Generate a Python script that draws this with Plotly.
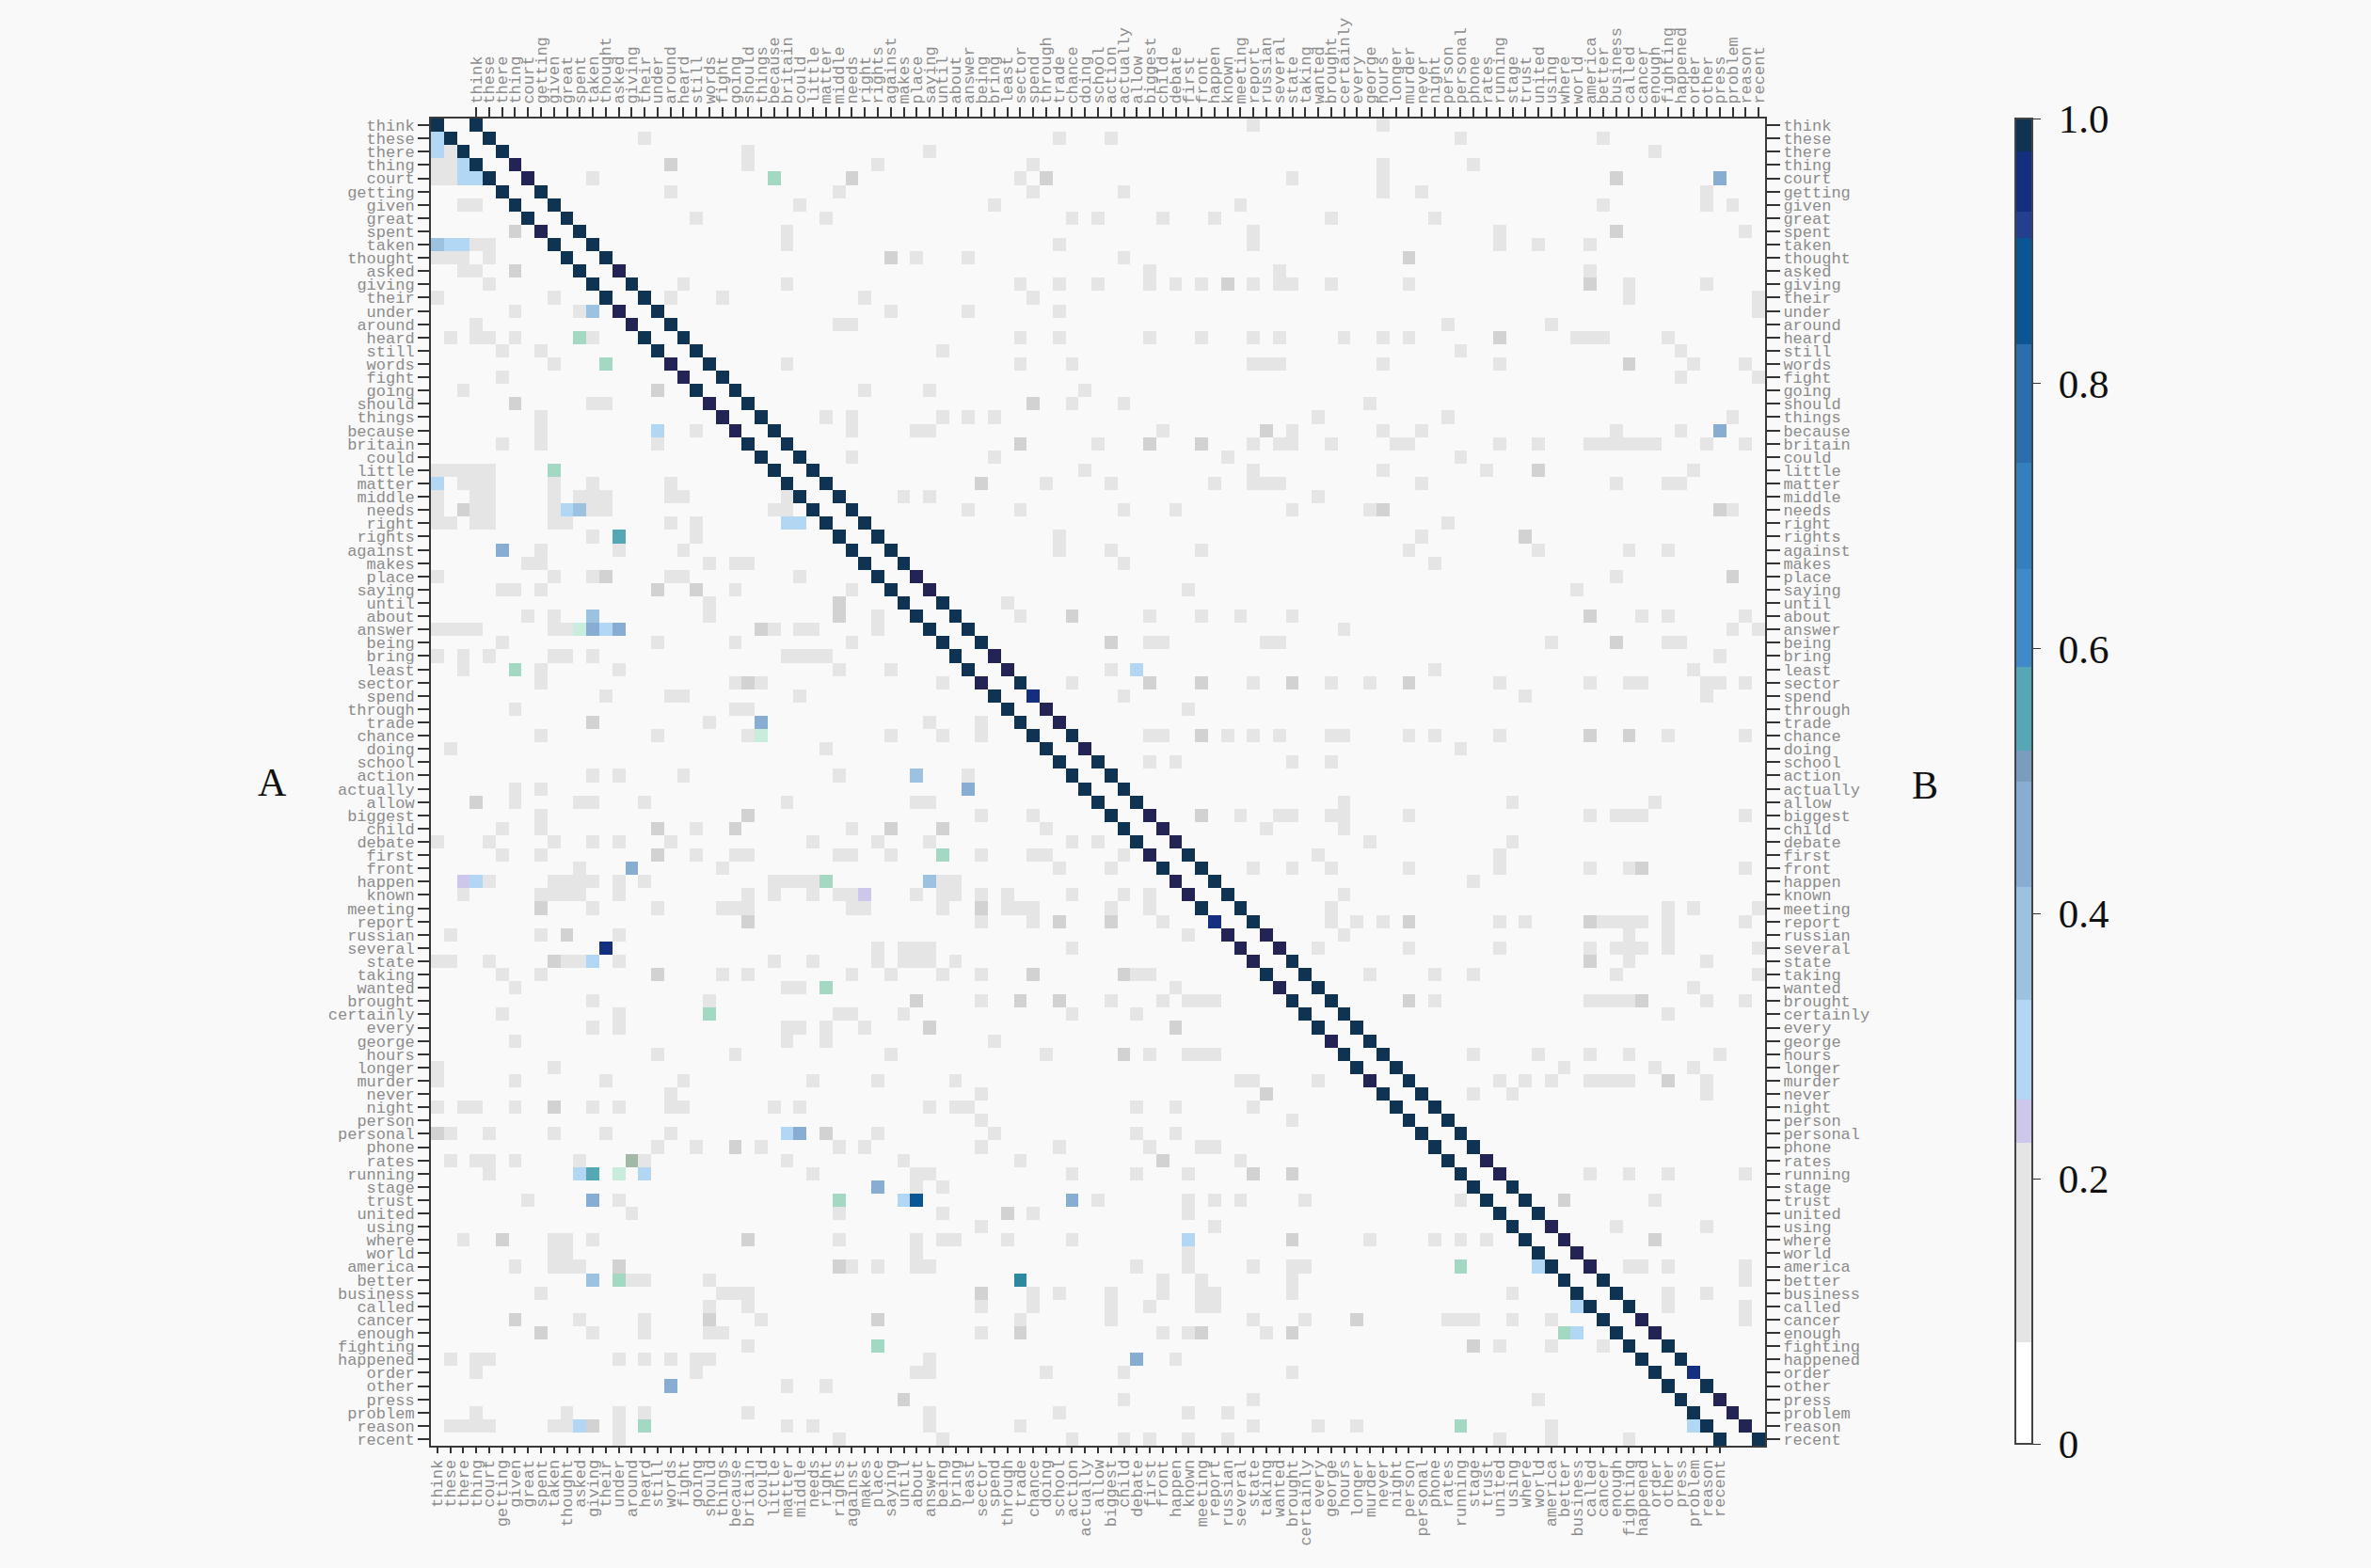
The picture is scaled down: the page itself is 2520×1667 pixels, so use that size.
import plotly.graph_objects as go

WIDTH = 2520
HEIGHT = 1667

words = """think these there thing court getting given great spent taken thought asked giving their under
around heard still words fight going should things because britain could little matter middle needs
right rights against makes place saying until about answer being bring least sector spend through
trade chance doing school action actually allow biggest child debate first front happen known meeting
report russian several state taking wanted brought certainly every george hours longer murder never
night person personal phone rates running stage trust united using where world america better business
called cancer enough fighting happened order other press problem reason recent""".split()

# colour bar bands
band_edges = [0, .077, .227, .26, .335, .42, .50, .523, .586, .66, .74, .83, .91, .93, .975, 1]
band_colors = ["#ffffff", "#e5e5e5", "#cdc7ec", "#b2d7f5", "#9cc2e2", "#87aed2", "#7a9cbf", "#55a7b5",
               "#3f8bca", "#3380bf", "#296fae", "#0a5695", "#243f90", "#142e80", "#0f3352"]

# colours in the cells that are not on the bar (compression tints in the source)
tint_colors = ["#d2d2d2", "#a3d9c3", "#c8eddc", "#232455", "#2b8aa0", "#a2b8a8"]
DARK_GRAY, GREEN, LIGHT_GREEN, PURPLE, DARK_TEAL, GRAY_GREEN = 1, 2, 3, 4, 5, 6

GRAY_LEVEL = 0.15

# row: columns of the pale grey cells
gray_cols = {
    0: [63, 73], 1: [16, 48, 52, 79, 90], 2: [0, 1, 24, 38, 94], 3: [0, 1, 24, 34, 46, 73, 80],
    4: [0, 1, 12, 45, 66, 73], 5: [18, 31, 46, 53, 73, 76, 98], 6: [2, 3, 28, 43, 62, 90, 98, 100],
    7: [20, 30, 49, 51, 56, 60, 69, 77], 8: [27, 63, 82, 101], 9: [3, 4, 27, 48, 63, 82, 85, 89],
    10: [0, 1, 2, 4, 37, 41, 53], 11: [2, 3, 55, 65, 89],
    12: [4, 19, 27, 45, 48, 51, 55, 57, 59, 63, 65, 66, 69, 75, 92, 98], 13: [0, 9, 18, 22, 33, 46, 92, 102],
    14: [6, 11, 35, 41, 48, 102], 15: [3, 31, 32, 78, 86],
    16: [1, 3, 4, 6, 12, 45, 48, 55, 59, 63, 65, 70, 73, 75, 88, 89, 90, 95], 17: [5, 8, 39, 79, 96],
    18: [9, 27, 45, 49, 63, 64, 65, 73, 82, 97, 101], 19: [5, 96, 102], 20: [2, 33, 38, 50],
    21: [12, 13, 49, 53, 72], 22: [8, 30, 32, 39, 41, 43, 68, 78, 100],
    23: [8, 20, 32, 37, 38, 56, 66, 73, 76, 91, 96],
    24: [5, 8, 17, 51, 63, 65, 66, 69, 74, 75, 82, 85, 89, 90, 91, 92, 93, 94, 98, 101], 25: [32, 43, 61, 79],
    26: [0, 1, 2, 3, 4, 50, 63, 73, 81, 97], 27: [2, 3, 4, 9, 12, 18, 47, 52, 60, 63, 64, 65, 76, 91, 95, 96],
    28: [0, 3, 4, 9, 11, 12, 13, 18, 19, 27, 36, 38, 68],
    29: [0, 3, 4, 9, 12, 13, 26, 27, 41, 45, 53, 57, 66, 72, 100], 30: [0, 1, 3, 4, 9, 10, 18, 20, 78],
    31: [12, 20, 48, 76], 32: [8, 14, 19, 48, 52, 59, 75, 85, 92, 95], 33: [7, 8, 21, 23, 24, 53, 77],
    34: [0, 9, 12, 18, 19, 28, 91], 35: [5, 6, 8, 23, 32, 58, 88], 36: [21, 44],
    37: [7, 9, 21, 34, 45, 55, 59, 62, 66, 93, 95, 101], 38: [0, 1, 2, 3, 9, 10, 26, 28, 29, 34, 70, 100, 102],
    39: [5, 17, 23, 32, 55, 56, 64, 65, 86, 95, 96], 40: [0, 2, 4, 9, 10, 12, 27, 28, 29, 30, 99],
    41: [2, 8, 14, 31, 35, 52, 77, 97], 42: [8, 23, 25, 39, 49, 63, 69, 72, 82, 89, 92, 93, 98, 99, 101],
    43: [13, 18, 19, 28, 53, 84, 98], 44: [6, 23, 24, 58], 45: [21, 38, 42],
    46: [8, 17, 24, 35, 39, 42, 55, 56, 61, 63, 65, 69, 70, 75, 77, 82, 95, 101], 47: [1, 30, 79],
    48: [55, 57, 66, 69], 49: [12, 14, 19, 31, 41], 50: [6, 8], 51: [6, 11, 12, 16, 27, 37, 38, 70, 83, 94],
    52: [8, 42, 46, 62, 65, 66, 69, 70, 75, 89, 91, 92, 93, 101], 53: [5, 8, 20, 32, 47, 64, 70],
    54: [0, 4, 9, 12, 14, 18, 29, 34, 38, 49, 51, 72, 83],
    55: [5, 8, 20, 23, 24, 31, 32, 35, 42, 46, 47, 53, 68, 82], 56: [11, 22, 48, 52, 63, 66, 69, 75, 82, 89, 92, 101],
    57: [4, 9, 10, 11, 12, 14, 16, 26, 27, 28, 29, 39, 40, 80],
    58: [2, 8, 9, 10, 11, 14, 24, 26, 29, 31, 32, 37, 39, 40, 42, 44, 49, 53, 55, 70],
    59: [12, 17, 22, 23, 24, 32, 33, 39, 44, 45, 46, 52, 55, 69, 95, 97, 102],
    60: [42, 46, 56, 69, 71, 73, 82, 84, 90, 91, 92, 93, 95, 101], 61: [1, 8, 14, 58, 70, 92, 95],
    62: [34, 36, 37, 38, 49, 68, 75, 82, 89, 91, 92, 93, 95, 102],
    63: [0, 1, 4, 10, 11, 14, 26, 29, 34, 36, 37, 38, 40, 92, 98],
    64: [5, 8, 22, 24, 32, 35, 39, 42, 54, 55, 72, 77, 80, 91, 102], 65: [6, 27, 28, 57, 97],
    66: [12, 21, 42, 52, 56, 58, 59, 60, 77, 89, 90, 91, 92, 98, 101], 67: [5, 14, 31, 32, 36, 49, 54, 95],
    68: [12, 14, 27, 28, 30, 33], 69: [6, 27, 30, 43], 70: [17, 23, 35, 47, 55, 58, 59, 60, 80, 85, 89, 92, 99],
    71: [0, 9, 87, 94, 97], 72: [0, 6, 13, 19, 29, 34, 40, 62, 63, 68, 82, 84, 86, 89, 90, 91, 92, 98],
    73: [18, 42, 80, 83, 98], 74: [0, 2, 3, 6, 12, 14, 18, 19, 26, 28, 38, 40, 41, 54, 57, 63], 75: [42, 66],
    76: [1, 4, 9, 13, 18, 34, 43, 54, 57], 77: [17, 20, 25, 31, 33, 42, 48, 55, 59, 60],
    78: [1, 3, 4, 6, 11, 16, 27, 36, 45, 62], 79: [4, 16, 29, 37, 38, 49, 54, 58, 89, 92, 95, 101], 80: [37, 39],
    81: [7, 14, 51, 58, 60, 62, 67, 79, 94], 82: [15, 31, 39, 46, 58], 83: [42, 60, 91, 98],
    84: [2, 9, 10, 12, 31, 37, 39, 40, 44, 49, 72, 77, 79, 81], 85: [9, 10, 37, 58],
    86: [6, 9, 10, 11, 32, 34, 37, 38, 54, 58, 63, 66, 67, 92, 93, 95, 101], 87: [15, 16, 21, 56, 59, 66, 101],
    88: [8, 22, 23, 24, 46, 48, 52, 56, 59, 60, 66, 83, 95, 98], 89: [21, 24, 42, 46, 52, 55, 59, 60, 95, 101],
    90: [11, 16, 25, 45, 52, 63, 67, 78, 79, 80, 83, 86, 101], 91: [12, 16, 21, 22, 42, 56, 58, 64],
    92: [24, 82, 86, 90], 93: [1, 3, 4, 14, 16, 18, 20, 21, 38, 57], 94: [3, 20, 37, 38, 47, 53, 66],
    95: [27, 30], 96: [53, 63, 85], 97: [3, 10, 14, 16, 24, 38, 48, 58, 61],
    98: [1, 2, 3, 4, 9, 10, 14, 27, 29, 38, 45, 63, 68, 71, 86], 99: [14, 31, 39, 49, 53, 55, 58, 61, 82, 86, 92],
}

# row: columns of the darker grey cells
dark_gray_cols = {
    3: [18], 4: [32, 47, 91], 8: [6, 91], 10: [35, 75], 11: [6], 12: [61, 89], 16: [82], 18: [92], 20: [17],
    21: [6, 46], 23: [64], 24: [45, 55, 59], 26: [85], 27: [42], 29: [2, 73, 99], 31: [84], 34: [13, 100],
    35: [17, 20], 36: [31], 37: [31, 49, 89], 38: [25], 39: [52, 91], 42: [24, 55, 59, 66, 75], 45: [12],
    46: [59, 89, 92], 51: [3], 52: [24, 59], 53: [17, 23, 35, 39], 55: [17], 56: [93], 59: [8, 42],
    60: [24, 48, 52, 75, 89], 61: [10], 63: [9, 89], 64: [17, 46, 53], 66: [37, 45, 48, 75, 93], 68: [38, 57],
    70: [53], 72: [95], 73: [64], 74: [9], 76: [0, 30], 77: [23], 78: [56], 79: [63, 66], 81: [87], 82: [44],
    84: [5, 24, 66, 94], 86: [14, 31], 88: [42], 90: [6, 21, 34, 71], 91: [8, 45, 59, 66], 92: [80], 96: [36],
    98: [12],
}

# the cells that stand out, off the two diagonals
strong_rows = [1, 2, 3, 4, 4, 4, 9, 9, 9, 14, 23, 23, 27, 29, 29, 30, 30, 31, 32, 37, 38, 38, 38, 41, 45, 49, 50,
               56, 57, 57, 57, 58, 62, 63, 76, 76, 79, 79, 79, 80, 81, 81, 81, 81, 84, 86, 87, 89, 91, 93, 95, 98, 98]
strong_cols = [0, 0, 2, 2, 3, 99, 0, 1, 2, 12, 17, 99, 0, 10, 11, 27, 28, 14, 5, 12, 12, 13, 14, 54, 25, 37, 41,
               15, 2, 3, 38, 33, 13, 12, 27, 28, 11, 12, 16, 34, 12, 36, 37, 49, 58, 85, 12, 88, 88, 54, 18, 11, 97]
strong_vals = [.28, .28, .30, .30, .30, .46, .38, .30, .30, .38, .30, .46, .30, .30, .40, .30, .33, .55, .44, .35,
               .43, .28, .46, .33, .43, .35, .43, .47, .24, .30, .38, .24, .93, .28, .28, .45, .30, .55, .28, .47,
               .43, .28, .85, .47, .30, .33, .38, .33, .28, .43, .43, .30, .30]

green_rows = [4, 16, 18, 26, 41, 55, 57, 65, 67, 81, 87, 86, 91, 92, 98, 98]
green_cols = [26, 11, 13, 9, 6, 39, 30, 30, 21, 31, 14, 79, 87, 34, 16, 79]
light_green_rows = [38, 46, 79]
light_green_cols = [11, 25, 14]
teal_rows = [87]
teal_cols = [45]
gray_green_rows = [78]
gray_green_cols = [15]

# the two diagonals, column = row and column = row + 3
diag_a_vals = [1, 1, 1, 1, 1, 1, 1, 1, 1, 1, 1, 1, 1, 1, 1, 1, 1, 1, 1, 1,
               1, 1, 1, 1, 1, 1, 1, 1, 1, 1, 1, 1, 1, 1, 1, 1, 1, 1, 1, 1,
               1, 1, 1, 1, 1, 1, 1, 1, 1, 1, 1, 1, 1, 1, 1, 1, 1, 1, 1, 1,
               .93, 1, 1, 1, 1, 1, 1, 1, 1, 1, 1, 1, 1, 1, 1, 1, 1, 1, 1, 1,
               1, 1, 1, 1, 1, 1, 1, 1, 1, 1, 1, 1, 1, 1, 1, 1, 1, 1, 1, 1]
diag_b_vals = [1, 1, 1, 1, 1, 1, 1, 1, 1, 1, 1, 1, 1, 1, 1, 1, 1, 1, 1, 1,
               1, 1, 1, 1, 1, 1, 1, 1, 1, 1, 1, 1, 1, 1, 1, 1, 1, 1, 1, 1,
               1, 1, 1, .93, 1, 1, 1, 1, 1, 1, 1, 1, 1, 1, 1, 1, 1, 1, 1, 1,
               1, 1, 1, 1, 1, 1, 1, 1, 1, 1, 1, 1, 1, 1, 1, 1, 1, 1, 1, 1,
               1, 1, 1, 1, 1, 1, 1, 1, 1, 1, 1, 1, 1, 1, .93, 1, 1, 1, 1, 1]
diag_a_purple = [8, 14, 15, 18, 19, 21, 22, 23, 42, 55, 57, 58, 61, 62, 63, 65, 69, 72]
diag_b_purple = [3, 4, 11, 34, 35, 40, 41, 44, 45, 47, 52, 53, 54, 61, 62, 78, 79, 83, 84, 85, 86, 90, 91, 96, 97, 98]

n_rows = len(words)
n_cols = n_rows + 3
row_ids = list(range(n_rows))
col_ids = list(range(n_cols))

z = [[None] * n_cols for _ in row_ids]
tint = [[None] * n_cols for _ in row_ids]

for r, cols in gray_cols.items():
    for c in cols:
        z[r][c] = GRAY_LEVEL
for r, cols in dark_gray_cols.items():
    for c in cols:
        tint[r][c] = DARK_GRAY
for r, c, v in zip(strong_rows, strong_cols, strong_vals):
    z[r][c] = v
for rows, cols, code in [(green_rows, green_cols, GREEN), (light_green_rows, light_green_cols, LIGHT_GREEN),
                         (teal_rows, teal_cols, DARK_TEAL), (gray_green_rows, gray_green_cols, GRAY_GREEN)]:
    for r, c in zip(rows, cols):
        tint[r][c] = code
for r in row_ids:
    z[r][r] = diag_a_vals[r]
    z[r][r + 3] = diag_b_vals[r]
    tint[r][r] = None
    tint[r][r + 3] = None
for r in diag_a_purple:
    tint[r][r] = PURPLE
for r in diag_b_purple:
    tint[r][r + 3] = PURPLE


def stepped_scale(edges, colors):
    top = edges[-1]
    scale = []
    for i, color in enumerate(colors):
        scale.append([edges[i] / top, color])
        scale.append([edges[i + 1] / top, color])
    return scale


fig = go.Figure()
fig.add_trace(
    go.Heatmap(
        z=z, x=col_ids, y=row_ids,
        zmin=0, zmax=1,
        colorscale=stepped_scale(band_edges, band_colors),
        hoverongaps=False,
        colorbar=dict(
            x=2142 / WIDTH, xanchor="left", xpad=0,
            y=1 - 126 / HEIGHT, yanchor="top", ypad=0,
            thickness=18, thicknessmode="pixels",
            len=1409, lenmode="pixels",
            outlinecolor="#444444", outlinewidth=2,
            tickmode="array",
            tickvals=[0, 0.2, 0.4, 0.6, 0.8, 1.0],
            ticktext=["\u00a00", "\u00a00.2", "\u00a00.4", "\u00a00.6", "\u00a00.8", "\u00a01.0"],
            ticks="outside", ticklen=8, tickwidth=1, tickcolor="#333333",
            tickfont=dict(family="Liberation Serif", size=43, color="#111111"),
        ),
    )
)
fig.add_trace(
    go.Heatmap(
        z=tint, x=col_ids, y=row_ids,
        zmin=0.5, zmax=len(tint_colors) + 0.5,
        colorscale=stepped_scale(list(range(len(tint_colors) + 1)), tint_colors),
        showscale=False, hoverongaps=False,
    )
)
# empty trace so the top and right axes get drawn
fig.add_trace(go.Scatter(x=[None], y=[None], xaxis="x2", yaxis="y2", showlegend=False))

tick_font = dict(family="Liberation Mono", size=17, color="#8c8c8c")
x_domain = [458 / WIDTH, 1876 / WIDTH]
y_domain = [1 - 1537 / HEIGHT, 1 - 126 / HEIGHT]
x_range = [-0.5, n_cols - 0.5]
y_range = [n_rows - 0.5, -0.5]
line_style = dict(showline=True, linecolor="#3a3a3a", linewidth=2, showgrid=False, zeroline=False,
                  ticks="outside", tickwidth=2, tickcolor="#333333", tickfont=tick_font, tickmode="array")

fig.update_layout(
    width=WIDTH, height=HEIGHT,
    margin=dict(l=0, r=0, t=0, b=0, autoexpand=False),
    paper_bgcolor="#f9f9f9", plot_bgcolor="#f9f9f9",
    showlegend=False,
    xaxis=dict(domain=x_domain, range=x_range, side="bottom", anchor="y", tickangle=-90, ticklen=6,
               tickvals=row_ids, ticktext=words, **line_style),
    xaxis2=dict(domain=x_domain, range=x_range, side="top", anchor="y", overlaying="x", tickangle=-90, ticklen=10,
                tickvals=[i + 3 for i in row_ids], ticktext=words, **line_style),
    yaxis=dict(domain=y_domain, range=y_range, side="left", anchor="x", ticklen=12,
               tickvals=row_ids, ticktext=words, **line_style),
    yaxis2=dict(domain=y_domain, range=y_range, side="right", anchor="x", overlaying="y", ticklen=14,
                tickvals=row_ids, ticktext=words, **line_style),
    annotations=[
        dict(text="A", x=289 / WIDTH, y=1 - 832 / HEIGHT, xref="paper", yref="paper", showarrow=False,
             xanchor="center", yanchor="middle", font=dict(family="Liberation Serif", size=42, color="#111111")),
        dict(text="B", x=2046 / WIDTH, y=1 - 835 / HEIGHT, xref="paper", yref="paper", showarrow=False,
             xanchor="center", yanchor="middle", font=dict(family="Liberation Serif", size=42, color="#111111")),
    ],
)

fig.write_html(
    "out.html",
    config={"displayModeBar": False},
    post_script="document.body.style.margin='0';document.body.style.overflow='hidden';"
                "document.body.style.background='#f9f9f9';",
)
